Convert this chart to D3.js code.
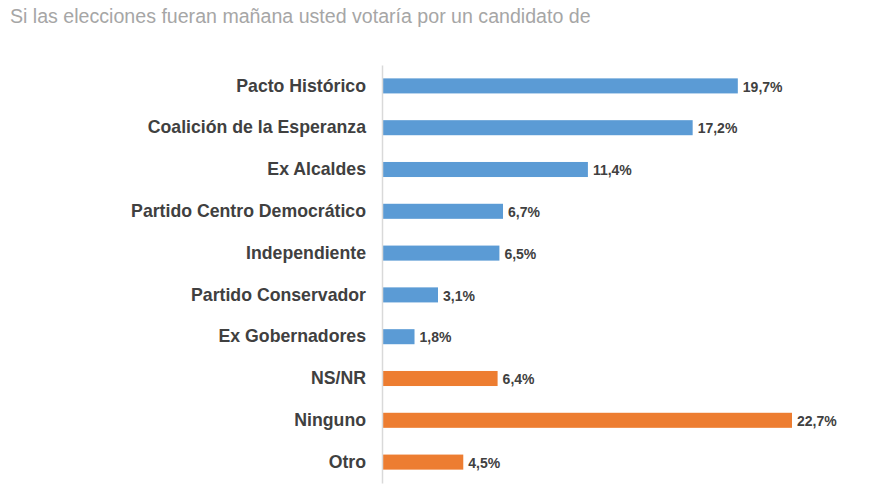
<!DOCTYPE html>
<html><head><meta charset="utf-8">
<script src="https://cdn.jsdelivr.net/npm/d3@7"></script>
<style>body{margin:0;background:#fff}</style>
</head><body>
<svg id="c" width="875" height="499"></svg>
<script>
const categories = ["Pacto Histórico","Coalición de la Esperanza","Ex Alcaldes","Partido Centro Democrático","Independiente","Partido Conservador","Ex Gobernadores","NS/NR","Ninguno","Otro"];
const values = [19.7,17.2,11.4,6.7,6.5,3.1,1.8,6.4,22.7,4.5];
const groups = ["c","c","c","c","c","c","c","o","o","o"];
const valueLabels = ["19,7%","17,2%","11,4%","6,7%","6,5%","3,1%","1,8%","6,4%","22,7%","4,5%"];
const title = "Si las elecciones fueran mañana usted votaría por un candidato de";

const svg = d3.select("#c");
const x0 = 382;
const x = d3.scaleLinear().domain([0, 22.7]).range([x0, 792]);
const y = d3.scaleBand().domain(categories).range([65, 483]).paddingInner(0.64).paddingOuter(0.32);
const color = d3.scaleOrdinal().domain(["c","o"]).range(["#5b9bd5","#ed7d31"]);

svg.append("text").attr("x", 10).attr("y", 23)
  .attr("font-family","Liberation Sans, Arial, sans-serif").attr("font-size", 19.6)
  .attr("fill","#a6a6a6").text(title);

svg.append("g").selectAll("rect").data(categories).join("rect")
  .attr("x", x(0)).attr("y", d => y(d))
  .attr("width", (d,i) => x(values[i]) - x(0)).attr("height", y.bandwidth())
  .attr("fill", (d,i) => color(groups[i]));

const ax = svg.append("g").attr("transform", `translate(${x0},0)`)
  .call(d3.axisLeft(y).tickSize(0).tickPadding(16));
ax.select(".domain").attr("stroke","#d9d9d9").attr("stroke-width",1.5);
ax.selectAll("text").attr("font-family","Liberation Sans, Arial, sans-serif")
  .attr("font-size",17.7).attr("font-weight","bold").attr("fill","#404040");

svg.append("g").selectAll("text").data(categories).join("text")
  .attr("x", (d,i) => x(values[i]) + 5).attr("y", d => y(d) + y.bandwidth()/2)
  .attr("dy","0.4em")
  .attr("font-family","Liberation Sans, Arial, sans-serif").attr("font-size",14)
  .attr("font-weight","bold").attr("fill","#404040")
  .text((d,i) => valueLabels[i]);
</script>
</body></html>
